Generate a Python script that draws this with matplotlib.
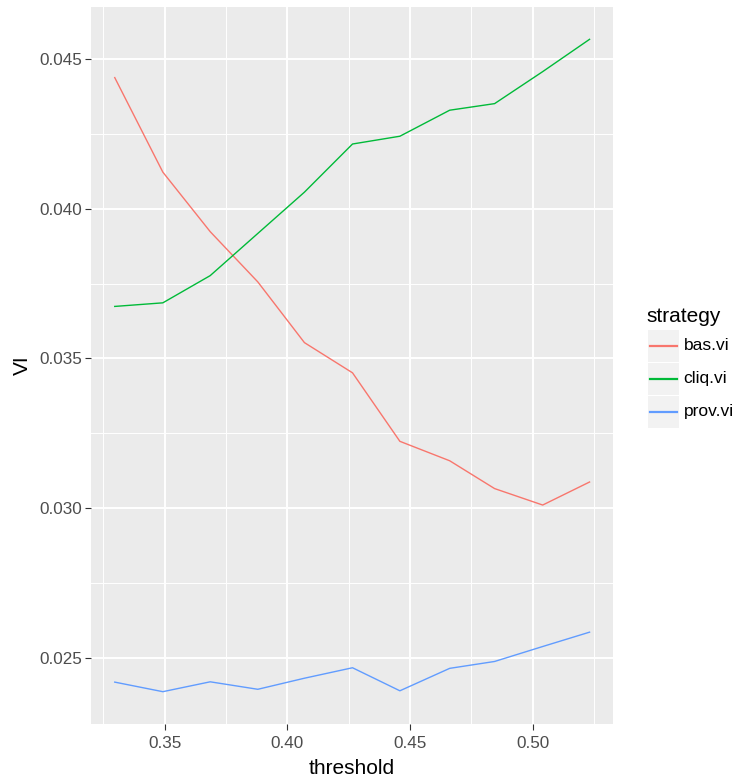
import matplotlib
matplotlib.use("Agg")
import matplotlib.pyplot as plt
from matplotlib.patches import Rectangle
from matplotlib.lines import Line2D

# data
threshold = [0.3297, 0.3493, 0.3686, 0.3880, 0.4070, 0.4266,
             0.4459, 0.4662, 0.4845, 0.5041, 0.5232]
bas_vi = [0.04439, 0.04123, 0.03924, 0.03756, 0.03553, 0.03452,
          0.03223, 0.03158, 0.03065, 0.03010, 0.03087]
cliq_vi = [0.03674, 0.03686, 0.03777, 0.03918, 0.04056, 0.04217,
           0.04243, 0.04330, 0.04352, 0.04459, 0.04567]
prov_vi = [0.02418, 0.02386, 0.02419, 0.02394, 0.02431, 0.02466,
           0.02389, 0.02464, 0.02487, 0.02537, 0.02585]
strategies = ["bas.vi", "cliq.vi", "prov.vi"]
colors = ["#F8766D", "#00BA38", "#619CFF"]
x_ticks = [0.35, 0.40, 0.45, 0.50]
y_ticks = [0.025, 0.030, 0.035, 0.040, 0.045]

plt.rcParams["font.family"] = ["Liberation Sans", "DejaVu Sans"]

W, H = 734, 780
fig = plt.figure(figsize=(W / 100, H / 100), dpi=100)
ax = fig.add_axes([91 / W, 1 - 724.3 / H, (613.3 - 91) / W, (724.3 - 6.7) / H])
ax.set_facecolor("#EBEBEB")

for ys, c in zip([bas_vi, cliq_vi, prov_vi], colors):
    ax.plot(threshold, ys, color=c, linewidth=1.0)

ax.margins(x=0.05, y=0.05)
ax.set_xticks(x_ticks)
ax.set_xticklabels([f"{t:.2f}" for t in x_ticks])
ax.set_yticks(y_ticks)
ax.set_yticklabels([f"{t:.3f}" for t in y_ticks])

# ggplot-like minor grid halfway between majors
xmin, xmax = ax.get_xlim()
ymin, ymax = ax.get_ylim()
xminor = [x_ticks[0] - 0.025] + [t + 0.025 for t in x_ticks]
yminor = [y_ticks[0] - 0.0025] + [t + 0.0025 for t in y_ticks]
ax.set_xticks([v for v in xminor if xmin < v < xmax], minor=True)
ax.set_yticks([v for v in yminor if ymin < v < ymax], minor=True)
ax.grid(which="major", color="white", linewidth=1.4)
ax.grid(which="minor", color="white", linewidth=0.7)
ax.set_axisbelow(True)
ax.tick_params(which="minor", length=0)
ax.tick_params(which="major", length=4, width=0.8, color="#333333",
               labelcolor="#4D4D4D", labelsize=12.3)
ax.tick_params(axis="x", pad=4.5)
ax.tick_params(axis="y", pad=2.5)
for s in ax.spines.values():
    s.set_visible(False)

ax.set_xlabel("threshold", fontsize=15, labelpad=5.5)
ax.set_ylabel("VI", fontsize=15, labelpad=5)

# legend, ggplot style with grey key boxes
lax = fig.add_axes([0, 0, 1, 1])
lax.set_xlim(0, W)
lax.set_ylim(H, 0)
lax.axis("off")
lax.text(646.5, 322, "strategy", fontsize=15, va="baseline", ha="left")
key_top = [330, 363, 396]
for name, c, top in zip(strategies, colors, key_top):
    lax.add_patch(Rectangle((647.5, top), 31.5, 31.5, facecolor="#F2F2F2",
                            edgecolor="none"))
    mid = top + 15.75
    lax.add_line(Line2D([649.5, 677], [mid, mid], color=c, linewidth=1.6))
    lax.text(683.5, mid, name, fontsize=12.5, va="center", ha="left")

fig.savefig("out.png", dpi=100)
